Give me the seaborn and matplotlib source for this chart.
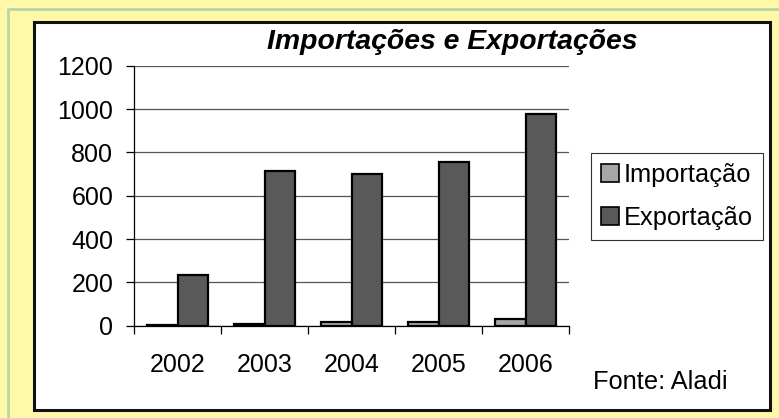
import numpy as np
import pandas as pd
import matplotlib
matplotlib.use('Agg')
import matplotlib.pyplot as plt
import seaborn as sns
from matplotlib.patches import Rectangle
from matplotlib.lines import Line2D

# data
anos = ['2002', '2003', '2004', '2005', '2006']
importacao = [5, 6, 18, 18, 30]
exportacao = [234, 715, 698, 754, 977]
series = ['Importação', 'Exportação']
cores = ['#A6A6A6', '#595959']
y_ticks = [0, 200, 400, 600, 800, 1000, 1200]

df = pd.DataFrame({
    'ano': anos * 2,
    'valor': importacao + exportacao,
    'tipo': [series[0]] * len(anos) + [series[1]] * len(anos),
})

sns.set_style('white')
plt.rcParams['font.family'] = ['Liberation Sans', 'DejaVu Sans']
plt.rcParams['text.color'] = 'black'
plt.rcParams['xtick.color'] = 'black'
plt.rcParams['ytick.color'] = 'black'

W, H = 779, 418
fig = plt.figure(figsize=(W / 100, H / 100), dpi=100, facecolor='#FFF8A8')

def fx(px):
    return px / W

def fy(py):
    return 1 - py / H

# green outline on top/left (the rest is cut off) and the white chart box
fig.lines.append(Line2D([fx(8), fx(8), 1.0], [0.0, fy(9), fy(9)],
                        transform=fig.transFigure, color='#B9D7A6',
                        linewidth=2, zorder=-3))
fig.patches.append(Rectangle((fx(34), fy(410)), fx(770) - fx(34), fy(22) - fy(410),
                             transform=fig.transFigure, facecolor='white',
                             edgecolor='#111111', linewidth=2.2, zorder=-2))

ax = fig.add_axes([fx(134), fy(325.7), fx(569) - fx(134), fy(65.7) - fy(325.7)])
ax.set_facecolor('none')
sns.barplot(data=df, x='ano', y='valor', hue='tipo', palette=cores, order=anos,
            hue_order=series, width=0.69, edgecolor='black', linewidth=1.6,
            ax=ax, legend=False, zorder=3)

ax.set_xlim(-0.5, len(anos) - 0.5)
ax.set_ylim(0, 1200)
ax.set_yticks(y_ticks)
ax.set_yticklabels([str(v) for v in y_ticks], fontsize=18)
ax.yaxis.grid(True, color='#555555', linewidth=0.9, zorder=0)
ax.set_axisbelow(True)
ax.tick_params(axis='y', length=6, width=0.9, pad=9, left=True)

ax.set_xticks(range(len(anos)))
ax.set_xticklabels(anos, fontsize=18)
ax.set_xticks(np.arange(-0.5, len(anos), 1), minor=True)
ax.tick_params(axis='x', which='major', length=0, pad=20)
ax.tick_params(axis='x', which='minor', length=6, width=0.9, bottom=True)
ax.set_xlabel('')
ax.set_ylabel('')

for s in ['top', 'right']:
    ax.spines[s].set_visible(False)
for s in ['left', 'bottom']:
    ax.spines[s].set_color('black')
    ax.spines[s].set_linewidth(0.9)

fig.text(fx(452), fy(42), 'Importações e Exportações', fontsize=20.4,
         fontweight='bold', fontstyle='italic', ha='center', va='center')

handles = [Rectangle((0, 0), 1, 1, facecolor=c, edgecolor='black', linewidth=1.2)
           for c in cores]
leg = fig.legend(handles, series, loc='upper left',
                 bbox_to_anchor=(fx(591), fy(153)), fontsize=18.3,
                 frameon=True, fancybox=False, framealpha=1,
                 edgecolor='#333333', handlelength=0.7, handleheight=0.7,
                 handletextpad=0.2, borderpad=0.4, labelspacing=0.75,
                 borderaxespad=0)
leg.get_frame().set_linewidth(0.8)

fig.text(fx(593), fy(382), 'Fonte: Aladi', fontsize=18.3, ha='left', va='center')

fig.savefig('out.png', dpi=100, facecolor=fig.get_facecolor())
